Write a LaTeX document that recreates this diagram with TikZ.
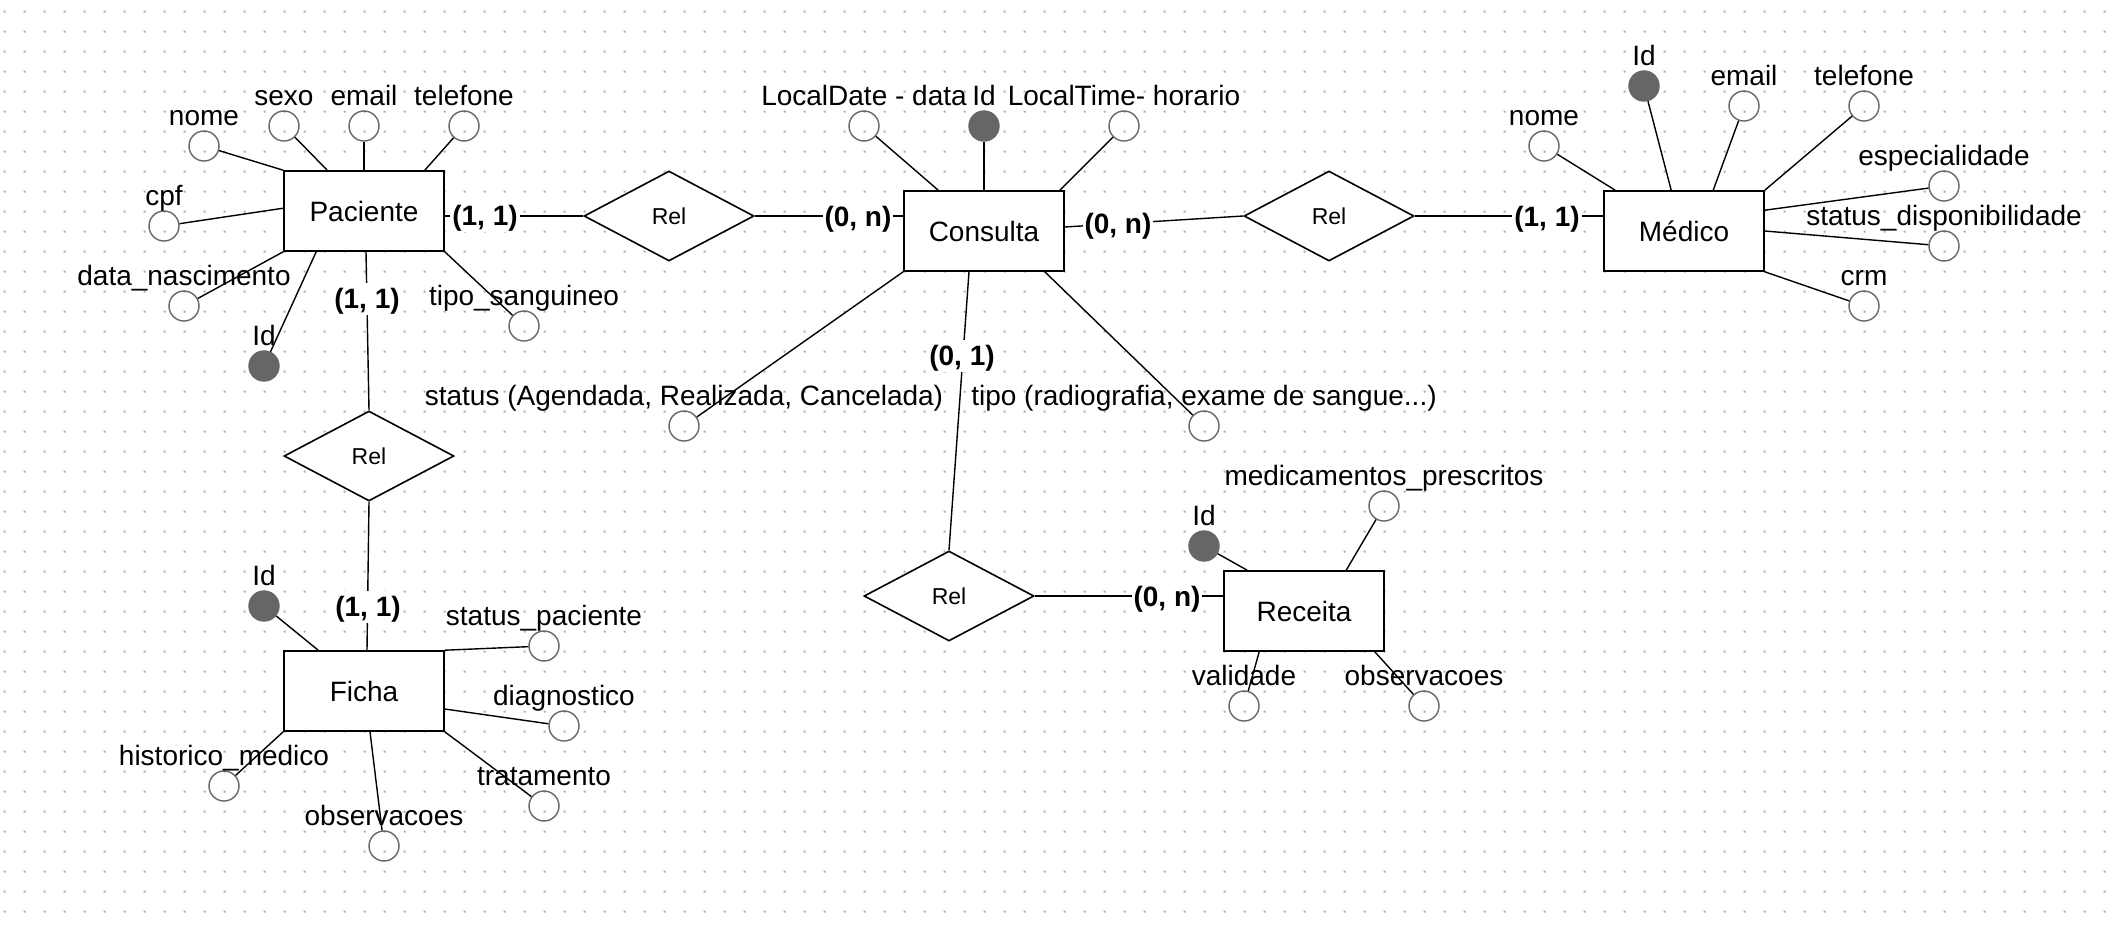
\documentclass[tikz,border=0pt]{standalone}
\usepackage{fontspec}
\setmainfont{Liberation Sans}
\usetikzlibrary{shapes.geometric,calc}
\definecolor{attrc}{HTML}{666666}
\definecolor{dotc}{HTML}{ABABAB}
\newcommand\myattr[5]{%
  \node[#1] (#2) at (#3,#4) {};
  \node[albl] (#2-l) at ({#3},{#4-21}) {#5};}
\begin{document}
\begin{tikzpicture}[x=0.5pt,y=-0.5pt,
  entity/.style={draw=black,line width=0.8pt,fill=white,minimum width=80pt,minimum height=40pt,inner sep=0pt,font=\fontsize{14}{16}\selectfont,text height=10pt,text depth=0pt},
  rel/.style={diamond,draw=black,line width=0.8pt,fill=white,minimum width=85pt,minimum height=45pt,inner sep=0pt,font=\fontsize{11.5}{13}\selectfont,text height=8pt,text depth=0pt},
  attr/.style={circle,draw=attrc,line width=0.7pt,minimum size=15pt,inner sep=0pt},
  keyattr/.style={circle,fill=attrc,draw=attrc,line width=0.7pt,minimum size=15pt,inner sep=0pt},
  albl/.style={anchor=base,inner sep=0pt,font=\fontsize{14}{16}\selectfont},
  card/.style={fill=white,inner xsep=1pt,inner ysep=1.5pt,text height=11pt,text depth=2pt,font=\fontsize{14}{16}\selectfont\bfseries},
  conn/.style={draw=black,line width=0.7pt}
]
\useasboundingbox (0,0) rectangle (2122,928);
\fill[white] (0,0) rectangle (2122,928);
\fill[dotc] \foreach \i in {0,...,105}{\foreach \j in {0,...,45}{ ({3.5+20*\i},{10.7+20*\j}) rectangle ++(2,2) }};

% entities
\node[entity] (pac) at (364,211) {Paciente};
\node[entity] (con) at (984,231) {Consulta};
\node[entity] (med) at (1684,231) {Médico};
\node[entity] (fic) at (364,691) {Ficha};
\node[entity] (rec) at (1304,611) {Receita};

% relationships
\node[rel] (r1) at (669,216) {Rel};
\node[rel] (r2) at (1329,216) {Rel};
\node[rel] (r3) at (369,456) {Rel};
\node[rel] (r4) at (949,596) {Rel};

% relationship connectors
\draw[conn] (pac.east |- r1.west) -- (r1.west);
\draw[conn] (r1.east) -- (r1.east -| con.west);
\draw[conn] ($(con.east)+(0,-4)$) -- (r2.west);
\draw[conn] (r2.east) -- (r2.east -| med.west);
\draw[conn] ($(pac.south)+(2,0)$) -- (r3.north);
\draw[conn] (r3.south) -- ($(fic.north)+(3,0)$);
\draw[conn] ($(con.south)+(-15,0)$) -- (r4.north);
\draw[conn] (r4.east) -- (r4.east -| rec.west);

\node[card] (c1) at (485,216) {(1, 1)};
\node[card] (c2) at (858,217) {(0, n)};
\node[card] (c3) at (1118,224) {(0, n)};
\node[card] (c4) at (1547,217) {(1, 1)};
\node[card] (c5) at (367,299) {(1, 1)};
\node[card] (c6) at (368,607) {(1, 1)};
\node[card] (c7) at (962,356) {(0, 1)};
\node[card] (c8) at (1167,597) {(0, n)};

% Paciente attributes
\myattr{attr}{pnome}{204}{146}{nome}
\myattr{attr}{psexo}{284}{126}{sexo}
\myattr{attr}{pemail}{364}{126}{email}
\myattr{attr}{ptel}{464}{126}{telefone}
\myattr{attr}{pcpf}{164}{226}{cpf}
\myattr{attr}{pdn}{184}{306}{data\_nascimento}
\myattr{keyattr}{pid}{264}{366}{Id}
\myattr{attr}{pts}{524}{326}{tipo\_sanguineo}
\draw[conn] (pac.north west) -- (pnome);
\draw[conn] ($(pac.north west)+(44,0)$) -- (psexo);
\draw[conn] (pac.north) -- (pemail);
\draw[conn] ($(pac.north east)+(-20,0)$) -- (ptel);
\draw[conn] ($(pac.north west)+(0,38)$) -- (pcpf);
\draw[conn] (pac.south west) -- (pdn);
\draw[conn] ($(pac.south west)+(33,0)$) -- (pid);
\draw[conn] (pac.south east) -- (pts);

% Consulta attributes
\myattr{attr}{cld}{864}{126}{LocalDate - data}
\myattr{keyattr}{cid}{984}{126}{Id}
\myattr{attr}{clt}{1124}{126}{LocalTime- horario}
\myattr{attr}{cst}{684}{426}{status (Agendada, Realizada, Cancelada)}
\myattr{attr}{ctp}{1204}{426}{tipo (radiografia, exame de sangue...)}
\draw[conn] ($(con.north west)+(35,0)$) -- (cld);
\draw[conn] (con.north) -- (cid);
\draw[conn] ($(con.north east)+(-5,0)$) -- (clt);
\draw[conn] (con.south west) -- (cst);
\draw[conn] ($(con.south east)+(-20,0)$) -- (ctp);

% Medico attributes
\myattr{attr}{mnome}{1544}{146}{nome}
\myattr{keyattr}{mid}{1644}{86}{Id}
\myattr{attr}{memail}{1744}{106}{email}
\myattr{attr}{mtel}{1864}{106}{telefone}
\myattr{attr}{mesp}{1944}{186}{especialidade}
\myattr{attr}{msd}{1944}{246}{status\_disponibilidade}
\myattr{attr}{mcrm}{1864}{306}{crm}
\draw[conn] ($(med.north west)+(12,0)$) -- (mnome);
\draw[conn] ($(med.north west)+(68,0)$) -- (mid);
\draw[conn] ($(med.north west)+(110,0)$) -- (memail);
\draw[conn] (med.north east) -- (mtel);
\draw[conn] ($(med.north east)+(0,20)$) -- (mesp);
\draw[conn] (med.east) -- (msd);
\draw[conn] (med.south east) -- (mcrm);

% Ficha attributes
\myattr{keyattr}{fid}{264}{606}{Id}
\myattr{attr}{fsp}{544}{646}{status\_paciente}
\myattr{attr}{fdg}{564}{726}{diagnostico}
\myattr{attr}{ftr}{544}{806}{tratamento}
\myattr{attr}{fob}{384}{846}{observacoes}
\myattr{attr}{fhm}{224}{786}{historico\_medico}
\draw[conn] ($(fic.north west)+(35,0)$) -- (fid);
\draw[conn] (fic.north east) -- (fsp);
\draw[conn] ($(fic.east)+(0,18)$) -- (fdg);
\draw[conn] (fic.south east) -- (ftr);
\draw[conn] ($(fic.south)+(6,0)$) -- (fob);
\draw[conn] (fic.south west) -- (fhm);

% Receita attributes
\myattr{keyattr}{rid}{1204}{546}{Id}
\myattr{attr}{rmp}{1384}{506}{medicamentos\_prescritos}
\myattr{attr}{rval}{1244}{706}{validade}
\myattr{attr}{rob}{1424}{706}{observacoes}
\draw[conn] ($(rec.north west)+(24,0)$) -- (rid);
\draw[conn] ($(rec.north west)+(123,0)$) -- (rmp);
\draw[conn] ($(rec.south west)+(36,0)$) -- (rval);
\draw[conn] ($(rec.south east)+(-10,0)$) -- (rob);
\end{tikzpicture}
\end{document}
